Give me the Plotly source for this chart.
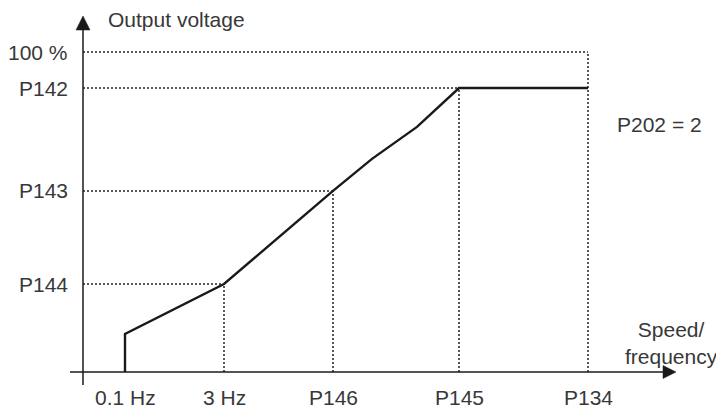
import plotly.graph_objects as go

# ---- data (arbitrary chart units) ----
x_tick_vals = [4.2, 14.1, 25.0, 37.6, 50.5]
x_tick_text = ["0.1 Hz", "3 Hz", "P146", "P145", "P134"]
y_tick_vals = [100.0, 88.75, 56.6, 27.5]
y_tick_text = ["100 %", "P142", "P143", "P144"]
curve_x = [4.2, 4.2, 14.1, 25.0, 28.9, 33.4, 37.6, 50.5]
curve_y = [0.0, 11.9, 27.5, 56.6, 66.6, 76.6, 88.75, 88.75]
# where each y-level guide ends (x) and each x guide ends (y)
y_guide_end_x = [50.5, 37.6, 25.0, 14.1]
x_guide_end_y = [None, 27.5, 56.6, 88.75, 100.0]

# page body has an 8px default margin: figure is 716x400 placed at (8, 8)
FIG_W, FIG_H = 716, 400
X_RANGE = [-7.5, 64.1]
Y_RANGE = [-11.25, 113.75]
x_axis_start, x_axis_end = -1.3, 59.3
y_axis_start, y_axis_end = -4.06, 111.25

FONT = dict(family="Liberation Sans, Arial, sans-serif", size=21, color="#383838")
INK = "#1a1a1a"

fig = go.Figure()

dot = dict(color="#222222", width=1.5, dash="2px,2px")
# horizontal guides
for yv, xe in zip(y_tick_vals, y_guide_end_x):
    fig.add_trace(go.Scatter(x=[0, xe], y=[yv, yv], mode="lines", line=dot,
                             hoverinfo="skip", showlegend=False))
# vertical guides
for xv, ye in zip(x_tick_vals, x_guide_end_y):
    if ye is None:
        continue
    fig.add_trace(go.Scatter(x=[xv, xv], y=[0, ye], mode="lines", line=dot,
                             hoverinfo="skip", showlegend=False))

# main curve
fig.add_trace(go.Scatter(x=curve_x, y=curve_y, mode="lines",
                         line=dict(color=INK, width=2.4),
                         hoverinfo="skip", showlegend=False))

# axes lines with arrows
px_x = (X_RANGE[1] - X_RANGE[0]) / FIG_W
px_y = (Y_RANGE[1] - Y_RANGE[0]) / FIG_H
shapes = [
    dict(type="line", xref="x", yref="y", x0=x_axis_start, x1=x_axis_end - 13 * px_x,
         y0=0, y1=0, line=dict(color=INK, width=1.5)),
    dict(type="line", xref="x", yref="y", x0=0, x1=0, y0=y_axis_start,
         y1=y_axis_end - 14 * px_y, line=dict(color=INK, width=1.5)),
    dict(type="path", xref="x", yref="y", fillcolor=INK, line=dict(color=INK, width=0.5),
         path=f"M {0} {y_axis_end} L {-7*px_x} {y_axis_end-14*px_y} "
              f"L {7*px_x} {y_axis_end-14*px_y} Z"),
    dict(type="path", xref="x", yref="y", fillcolor=INK, line=dict(color=INK, width=0.5),
         path=f"M {x_axis_end} 0 L {x_axis_end-13*px_x} {6.5*px_y} "
              f"L {x_axis_end-13*px_x} {-6.5*px_y} Z"),
]

annotations = []
for xv, t in zip(x_tick_vals, x_tick_text):
    annotations.append(dict(x=xv, y=-25 * px_y, xref="x", yref="y", text=t,
                            showarrow=False, xanchor="center", yanchor="middle", font=FONT))
for yv, t in zip(y_tick_vals, y_tick_text):
    annotations.append(dict(x=-13 * px_x, y=yv, xref="x", yref="y", text=t,
                            showarrow=False, xanchor="right", yanchor="middle", font=FONT))
annotations += [
    dict(x=23 * px_x, y=y_axis_end - 3 * px_y, xref="x", yref="y", text="Output voltage",
         showarrow=False, xanchor="left", yanchor="middle", font=FONT),
    dict(x=53.2, y=77.5, xref="x", yref="y", text="P202 = 2",
         showarrow=False, xanchor="left", yanchor="middle", font=FONT),
    dict(x=58.8, y=9.2, xref="x", yref="y", text="Speed/<br>frequency",
         showarrow=False, xanchor="center", yanchor="middle", align="center", font=FONT),
]

fig.update_layout(
    width=FIG_W, height=FIG_H,
    margin=dict(l=0, r=0, t=0, b=0),
    paper_bgcolor="white", plot_bgcolor="white",
    xaxis=dict(range=X_RANGE, visible=False, fixedrange=True),
    yaxis=dict(range=Y_RANGE, visible=False, fixedrange=True),
    shapes=shapes, annotations=annotations,
)

fig.write_html("out.html")
